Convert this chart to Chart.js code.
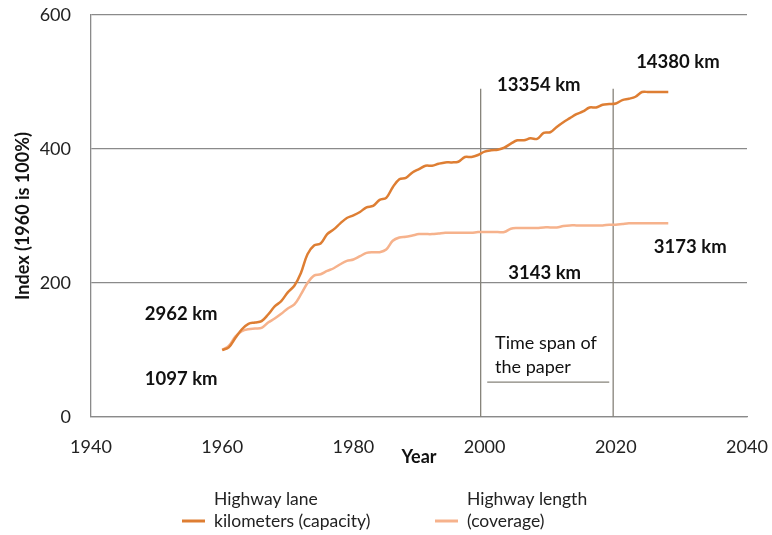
<!DOCTYPE html>
<html>
<head>
<meta charset="utf-8">
<script src="https://cdn.jsdelivr.net/npm/chart.js@4"></script>
<style>
  html, body { margin: 0; padding: 0; background: #fff; }
  #wrap { width: 772px; height: 535px; }
</style>
</head>
<body>
<div id="wrap"><canvas id="chart" width="772" height="535"></canvas></div>
<script>
// years 1960 .. 2028
const years = [];
for (let y = 1960; y <= 2028; y++) years.push(y);

const laneKm = [100, 104, 118, 131, 139, 141, 143, 153, 165, 173,
  186, 196, 215, 243, 256, 259, 273, 280, 289, 297,
  301, 306, 313, 315, 324, 327, 343, 355, 357, 365,
  370, 375, 375, 378, 380, 380, 381, 388, 388, 391,
  396, 398, 399, 402, 408, 413, 413, 416, 415, 424,
  425, 433, 440, 446, 452, 456, 462, 462, 466, 467,
  468, 473, 475, 478, 485, 485, 485, 485, 485];

const lengthKm = [100, 106, 120, 128, 131, 132, 133, 141, 147, 154,
  162, 168, 183, 200, 211, 213, 218, 222, 228, 233,
  235, 240, 245, 246, 246, 250, 263, 268, 269, 271,
  273, 273, 273, 274, 275, 275, 275, 275, 275, 276,
  276, 276, 276, 276, 281, 282, 282, 282, 282, 283,
  283, 283, 285, 286, 286, 286, 286, 286, 286, 287,
  287, 288, 289, 289, 289, 289, 289, 289, 289];

const seriesNames = [["Highway lane", "kilometers (capacity)"], ["Highway length", "(coverage)"]];
const yTicks = [0, 200, 400, 600];
const xTicks = [1940, 1960, 1980, 2000, 2020, 2040];

// paper time span markers (hand-drawn lines, read where they sit)
const spanYears = [1999.4, 2019.6];
const spanTop = 490;
const spanUnderline = [2000.4, 2019];
const spanUnderlineValue = 52;

// text notes on the chart
const noteTexts = ["2962 km", "1097 km", "13354 km", "14380 km", "3173 km", "3143 km", "Time span of", "the paper"];
const noteYears = [1948.2, 1948.2, 2001.9, 2023.1, 2025.8, 2003.6, 2001.6, 2001.6];
const noteValues = [154, 57, 495, 530, 254, 215, 110, 75];
const noteBold = [true, true, true, true, true, true, false, false];

const dark = '#DE7E33';
const light = '#F6B28C';
const gridGray = '#8a8a8a';
const markGray = '#86837a';
const fontFam = 'Lato, "Open Sans", sans-serif';

const toXY = vals => years.map((y, i) => ({ x: y, y: vals[i] }));

const noPad = s => { s.paddingTop = 0; s.paddingBottom = 0; s.paddingLeft = 0; s.paddingRight = 0; };

const overlay = {
  id: 'overlay',
  afterDraw(chart) {
    const ctx = chart.ctx;
    const xs = chart.scales.x, ys = chart.scales.y;
    ctx.save();
    ctx.fillStyle = '#111';
    ctx.textBaseline = 'middle';
    ctx.textAlign = 'left';
    noteTexts.forEach((t, i) => {
      ctx.font = (noteBold[i] ? 'bold 18.5px ' : '18px ') + fontFam;
      ctx.fillText(t, xs.getPixelForValue(noteYears[i]), ys.getPixelForValue(noteValues[i]));
    });
    // x axis title
    ctx.font = 'bold 18px ' + fontFam;
    ctx.textAlign = 'center';
    ctx.fillText('Year', (chart.chartArea.left + chart.chartArea.right) / 2, 457);
    // legend
    const colors = [dark, light];
    const starts = [182, 435];
    ctx.font = '17.5px ' + fontFam;
    ctx.textAlign = 'left';
    seriesNames.forEach((lines, i) => {
      ctx.strokeStyle = colors[i];
      ctx.lineWidth = 3;
      ctx.beginPath();
      ctx.moveTo(starts[i], 521);
      ctx.lineTo(starts[i] + 23, 521);
      ctx.stroke();
      ctx.fillStyle = '#222';
      lines.forEach((l, j) => ctx.fillText(l, starts[i] + 32, 499 + j * 22));
    });
    ctx.restore();
  }
};

new Chart(document.getElementById('chart'), {
  type: 'line',
  data: {
    datasets: [
      { data: toXY(laneKm), borderColor: dark, borderWidth: 2.5, pointRadius: 0, tension: 0.35 },
      { data: toXY(lengthKm), borderColor: light, borderWidth: 2.5, pointRadius: 0, tension: 0.35 },
      { data: [{ x: spanYears[0], y: 0 }, { x: spanYears[0], y: spanTop }], borderColor: markGray, borderWidth: 1.3, pointRadius: 0 },
      { data: [{ x: spanYears[1], y: 0 }, { x: spanYears[1], y: spanTop }], borderColor: markGray, borderWidth: 1.3, pointRadius: 0 },
      { data: [{ x: spanUnderline[0], y: spanUnderlineValue }, { x: spanUnderline[1], y: spanUnderlineValue }], borderColor: markGray, borderWidth: 1.3, pointRadius: 0 }
    ]
  },
  options: {
    responsive: false,
    animation: false,
    layout: { padding: { left: 0, right: 25, top: 15, bottom: 0 } },
    plugins: { legend: { display: false }, tooltip: { enabled: false } },
    scales: {
      x: {
        type: 'linear', min: 1940, max: 2040,
        afterBuildTicks: s => { s.ticks = xTicks.map(v => ({ value: v })); },
        afterFit: s => { s.height = 118; noPad(s); },
        grid: { display: false, drawTicks: false },
        border: { display: true, color: gridGray, width: 1.3 },
        ticks: { padding: 19, color: '#222', font: { family: fontFam, size: 18 }, callback: v => String(v), maxRotation: 0 }
      },
      y: {
        min: 0, max: 600,
        afterBuildTicks: s => { s.ticks = yTicks.map(v => ({ value: v })); },
        afterFit: s => { s.width = 91; noPad(s); },
        grid: { color: gridGray, lineWidth: 1.2, drawTicks: false },
        border: { display: true, color: gridGray, width: 1.3 },
        ticks: { padding: 20, color: '#222', font: { family: fontFam, size: 18 } },
        title: { display: true, text: 'Index (1960 is 100%)', color: '#111', font: { family: fontFam, size: 18, weight: 'bold' }, padding: { top: 12, bottom: 0 } }
      }
    }
  },
  plugins: [overlay]
});
</script>
</body>
</html>
